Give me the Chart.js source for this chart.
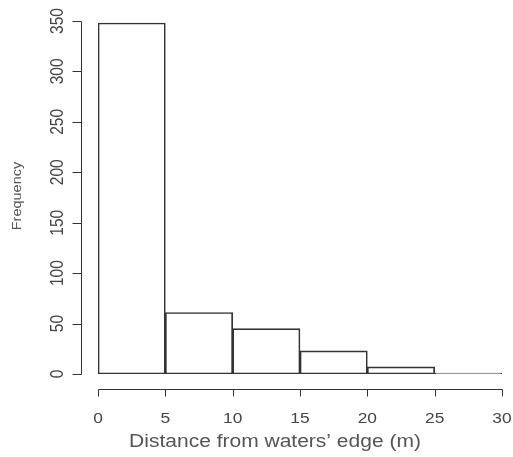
<!DOCTYPE html>
<html>
<head>
<meta charset="utf-8">
<script src="https://cdn.jsdelivr.net/npm/chart.js@4.4.0/dist/chart.umd.min.js"></script>
<style>
  html, body { margin: 0; padding: 0; background: #fff; }
  #wrap { width: 513px; height: 457px; }
</style>
</head>
<body>
<div id="wrap"><canvas id="hist"></canvas></div>
<script>
// data histogram (lebar kelas 5 m)
const binStarts = [0, 5, 10, 15, 20, 25];
const binWidth = 5;
const counts = [348, 61, 45, 23, 7, 1];
const xTicks = [0, 5, 10, 15, 20, 25, 30];
const yTicks = [0, 50, 100, 150, 200, 250, 300, 350];
const xTitle = 'Distance from waters\u2019 edge (m)';
const yTitle = 'Frequency';

// teks sedikit melebar ke samping, seperti gambar aslinya
function drawText(c, text, x, y, size, sx, vertical) {
  c.save();
  c.font = size + 'px "Liberation Sans", Arial, sans-serif';
  c.translate(x, y);
  c.scale(sx, 1);
  if (vertical) c.rotate(-Math.PI / 2);
  c.fillText(text, 0, 0);
  c.restore();
}

// sumbu gaya R, digambar terpisah dari area plot
const rAxes = {
  id: 'rAxes',
  afterDraw(chart) {
    const c = chart.ctx;
    const xs = chart.scales.x, ys = chart.scales.y;
    c.save();
    c.strokeStyle = '#333';
    c.lineWidth = 1;

    // sumbu y
    const ax = 81.5;
    c.beginPath();
    c.moveTo(ax, Math.round(ys.getPixelForValue(yTicks[0])) + 0.5);
    c.lineTo(ax, Math.round(ys.getPixelForValue(yTicks[yTicks.length - 1])) + 0.5);
    yTicks.forEach(v => {
      const py = Math.round(ys.getPixelForValue(v)) + 0.5;
      c.moveTo(ax, py);
      c.lineTo(ax - 9, py);
    });
    c.stroke();

    c.fillStyle = '#444';
    c.textAlign = 'center';
    c.textBaseline = 'alphabetic';
    yTicks.forEach(v => {
      drawText(c, String(v), 63, ys.getPixelForValue(v), 15.5, 1.15, true);
    });

    // sumbu x
    const ay = 389.5;
    c.beginPath();
    c.moveTo(Math.round(xs.getPixelForValue(xTicks[0])) + 0.5, ay);
    c.lineTo(Math.round(xs.getPixelForValue(xTicks[xTicks.length - 1])) + 0.5, ay);
    xTicks.forEach(v => {
      const px = Math.round(xs.getPixelForValue(v)) + 0.5;
      c.moveTo(px, ay);
      c.lineTo(px, ay + 7);
    });
    c.stroke();
    xTicks.forEach(v => {
      drawText(c, String(v), xs.getPixelForValue(v), 423, 15.5, 1.12, false);
    });

    // judul sumbu
    c.fillStyle = '#555';
    drawText(c, xTitle, 275, 447, 17.5, 1.2, false);
    drawText(c, yTitle, 21, 196, 14.5, 0.9, true);
    c.restore();
  }
};

const ctx = document.getElementById('hist').getContext('2d');
const histChart = new Chart(ctx, {
  type: 'bar',
  data: {
    datasets: [{
      data: binStarts.map((s, i) => ({ x: s + binWidth / 2, y: counts[i] })),
      backgroundColor: 'rgba(255,255,255,0)',
      borderColor: '#333',
      borderWidth: 1,
      borderSkipped: false,
      barPercentage: 1,
      categoryPercentage: 1
    }]
  },
  options: {
    responsive: true,
    maintainAspectRatio: false,
    animation: false,
    layout: { padding: { left: 98, right: 11, top: 21, bottom: 83 } },
    plugins: { legend: { display: false }, tooltip: { enabled: false } },
    scales: {
      x: { type: 'linear', min: 0, max: 30, offset: false, display: false },
      y: { min: 0, max: 350, display: false }
    }
  },
  plugins: [rAxes]
});
</script>
</body>
</html>
